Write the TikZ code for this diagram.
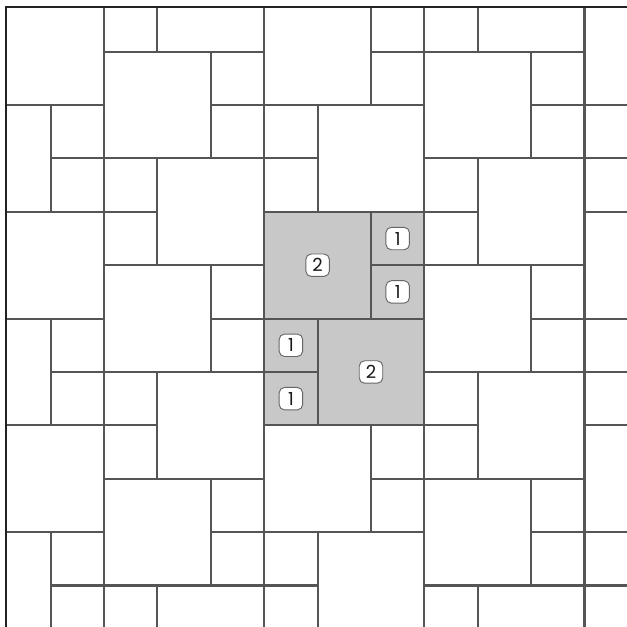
\documentclass[tikz,border=0pt]{standalone}
\usepackage{fontspec}
\setmainfont{Poppins}
\definecolor{tileline}{HTML}{555555}
\definecolor{frameline}{HTML}{222222}
\definecolor{tilefill}{HTML}{C8C8C8}
\definecolor{labline}{HTML}{666666}
\definecolor{labtext}{HTML}{1A1A1A}
\begin{document}
\begin{tikzpicture}[x=1cm,y=-1cm,
  tile/.style={draw=tileline, line width=1.1pt},
  shaded/.style={draw=tileline, line width=1.1pt, fill=tilefill},
  lab/.style={draw=labline, fill=white, rounded corners=0.1cm, line width=0.5pt,
    minimum width=0.44cm, minimum height=0.42cm, inner sep=0pt,
    font=\fontsize{9.6}{10}\selectfont, text=labtext},
  frame/.style={draw=frameline, line width=1.4pt}]
\useasboundingbox (0.0502,0.0315) rectangle (11.796,11.759);
\begin{scope}
  \clip (0.166,0.163) rectangle (12,12);
  % large tiles (2 x 2)
  \foreach \c/\r in {0/0,0/4,0/8,-1/2,-1/6,-1/10,2/1,2/5,2/9,3/-1,3/3,3/7,3/11,
                     5/0,5/8,6/2,6/10,8/1,8/5,8/9,9/-1,9/3,9/7,9/11,11/0,11/4,11/8}
    \draw[tile] (\c,\r) rectangle ++(2,2);
  % small tiles (1 x 1)
  \foreach \c/\r in {1/2,1/3,1/6,1/7,1/10,1/11,
                     2/0,2/3,2/4,2/7,2/8,2/11,
                     4/1,4/2,4/5,4/6,4/9,4/10,
                     5/2,5/3,5/10,5/11,
                     7/0,7/1,7/8,7/9,
                     8/0,8/3,8/4,8/7,8/8,8/11,
                     10/1,10/2,10/5,10/6,10/9,10/10,
                     11/2,11/3,11/6,11/7,11/10,11/11}
    \draw[tile] (\c,\r) rectangle ++(1,1);
  % highlighted repeat unit
  \draw[shaded] (5,4) rectangle ++(2,2);
  \draw[shaded] (6,6) rectangle ++(2,2);
  \draw[shaded] (7,4) rectangle ++(1,1);
  \draw[shaded] (7,5) rectangle ++(1,1);
  \draw[shaded] (5,6) rectangle ++(1,1);
  \draw[shaded] (5,7) rectangle ++(1,1);
\end{scope}
\draw[frame] (0.166,12) -- (0.166,0.163) -- (12,0.163);
% labels
\node[lab] (bigA) at (6,5) {2};
\node[lab] (smA1) at (7.5,4.5) {1};
\node[lab] (smA2) at (7.5,5.5) {1};
\node[lab] (smB1) at (5.5,6.5) {1};
\node[lab] (smB2) at (5.5,7.5) {1};
\node[lab] (bigB) at (7,7) {2};
\end{tikzpicture}
\end{document}
